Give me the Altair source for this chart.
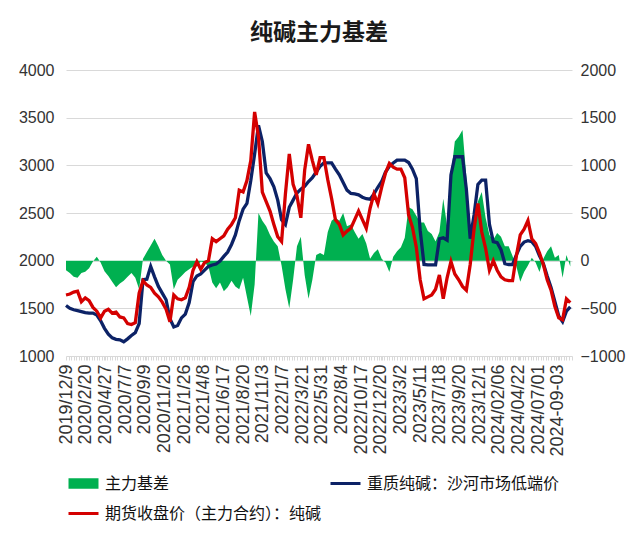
import altair as alt
import pandas as pd

chart_title = "纯碱主力基差"
basis_name = "主力基差"
spot_name = "重质纯碱：沙河市场低端价"
futures_name = "期货收盘价（主力合约）：纯碱"

x_labels = ["2019/12/9", "2020/2/20", "2020/4/27", "2020/7/7", "2020/9/9", "2020/11/20",
            "2021/1/26", "2021/4/8", "2021/6/17", "2021/8/20", "2021/11/3", "2022/1/7",
            "2022/3/21", "2022/5/31", "2022/8/4", "2022/10/17", "2022/12/20", "2023/3/2",
            "2023/5/11", "2023/7/18", "2023/9/20", "2023/12/1", "2024/02/06", "2024/04/22",
            "2024/07/01", "2024-09-03"]
label_step = 46      # trading days between category labels
sample_step = 9      # trading days between samples below

spot = [1530, 1500, 1485, 1475, 1465, 1455, 1450, 1450, 1430, 1370,
        1290, 1230, 1190, 1175, 1170, 1150, 1180, 1215, 1245, 1340,
        1800, 1805, 1940, 1830, 1730, 1660, 1590, 1390, 1305, 1320,
        1400, 1440, 1560, 1780, 1840, 1860, 1900, 1940, 1955, 1965,
        1995, 2045, 2090, 2170, 2270, 2420, 2540, 2600, 2840, 3120,
        3420, 3250, 2920, 2860, 2775, 2635, 2430, 2380, 2560, 2635,
        2710, 2750, 2780, 2830, 2870, 2930, 2990, 3025, 3025, 3025,
        2960, 2900, 2820, 2740, 2705, 2700, 2690, 2665, 2650, 2645,
        2700, 2770, 2830, 2930, 2990, 3025, 3055, 3055, 3055, 3030,
        2960, 2860, 2320, 1960, 1955, 1955, 1955, 2230, 2240, 2215,
        2900, 3090, 3090, 3090, 2750, 2230, 2480, 2800, 2845, 2845,
        2380, 2200, 2190, 2115, 1970, 1960, 1960, 2060, 2150, 2195,
        2210, 2200, 2150, 2050, 1970, 1840, 1720, 1570, 1420, 1360,
        1470, 1515]

futures = [1640, 1650, 1670, 1680, 1570, 1610, 1580, 1510, 1470, 1400,
           1470, 1490, 1450, 1460, 1410, 1400, 1340, 1330, 1350, 1660,
           1790, 1745, 1720, 1660, 1620, 1565, 1490, 1360, 1640, 1600,
           1590, 1610, 1720, 1900, 1990, 1910, 1980, 2000, 2230, 2200,
           2230, 2260, 2330, 2380, 2450, 2740, 2720, 2840, 3050, 3560,
           3300, 2720, 2620, 2520, 2380, 2250, 2200, 2700, 3120, 2800,
           2680, 2450, 2950, 3220, 3050, 2900, 3080, 3080, 2850, 2650,
           2430, 2380, 2270, 2310, 2340, 2430, 2520, 2430, 2340, 2550,
           2700, 2600, 2770, 2920, 3020, 2980, 2960, 2960, 2870, 2480,
           2350, 2140, 1800, 1600, 1620, 1640, 1700, 1850, 1600, 1820,
           1990, 1860, 1800, 1730, 1690, 1960, 2330, 2600, 2300, 2130,
           1900, 2000, 1900, 1830, 1800, 1790, 1790, 2050, 2270, 2330,
           2420, 2230, 2180, 2080, 1960, 1800, 1690, 1520, 1400, 1380,
           1600, 1560]

basis = [-100, -130, -170, -180, -130, -115, -80, -10, 40, -20,
         -110, -160, -220, -280, -240, -210, -170, -130, -180, -300,
         20, 90, 160, 230, 150, 60, 0, -40, -300, -200,
         -160, -120, -90, -60, -60, -10, -20, -60, -230, -290,
         -230, -320, -280, -210, -270, -300, -180, -380, -580, -250,
         500, 420, 360, 270, 200, 150, -50, -300, -500, -200,
         150, 250, -150, -400, -200, 60, 80, 60, 300, 420,
         450, 420, 500, 360, 380, 300, 230, 280, 180, 20,
         80, 120, 20, -20, -120, 40, 100, 140, 240, 560,
         540, 470, 400, 400, 310, 280, 200, 300, 650, 360,
         900, 1250, 1300, 1370, 880, 300, 300, 620, 720, 450,
         270, 220, 290, 250, 150, 150, 50, -60, -220, -120,
         -50, 30, -20, -120, 20, 100, 150, 30, 60, -180,
         60, -60]

df = pd.DataFrame({
    "idx": [i * sample_step for i in range(len(spot))],
    "spot": spot,
    "futures": futures,
    "basis": basis,
})

x_max = 1183
label_js = "[" + ",".join("'" + s + "'" for s in x_labels) + "]"
tick_vals = sorted(set(range(0, x_max + 1, 6)) |
                   set(range(0, len(x_labels) * label_step, label_step)))

TXT = "#333333"
GRID = "#d9d9d9"
CJK = "Noto Sans CJK SC"
LAT = "Liberation Sans"

x_enc = alt.X(
    "idx:Q",
    scale=alt.Scale(domain=[0, x_max], nice=False, zero=False),
    axis=alt.Axis(
        values=tick_vals,
        labelExpr=f"datum.value % {label_step} === 0 ? {label_js}[datum.value / {label_step}] : ''",
        labelAngle=270, labelFontSize=18, labelFont=LAT, labelColor=TXT,
        labelOverlap=False, labelPadding=4, labelBound=False, labelFlush=False,
        ticks=True, tickSize=4, tickColor=GRID, domain=False, grid=False, title=None,
    ),
)

left_axis = alt.Axis(orient="left", values=list(range(1000, 4001, 500)), format="d",
                     grid=True, gridColor=GRID, gridWidth=1, domain=False, ticks=False,
                     labelFontSize=16, labelFont=LAT, labelColor=TXT, labelPadding=12,
                     title=None, zindex=0)
right_axis = alt.Axis(orient="right", values=list(range(-1000, 2001, 500)), format="d",
                      grid=False, domain=False, ticks=False, labelFontSize=16, labelFont=LAT,
                      labelColor=TXT, labelPadding=8, title=None, zindex=0)
left_scale = alt.Scale(domain=[1000, 4000], nice=False, zero=False)
right_scale = alt.Scale(domain=[-1000, 2000], nice=False, zero=False)


def legend_at(x, y, symbol):
    return alt.Legend(orient="none", legendX=x, legendY=y, title=None, padding=0,
                      symbolType=symbol, symbolSize=900, symbolStrokeWidth=3,
                      labelFont=CJK, labelFontSize=16, labelColor="#111111",
                      labelOffset=5, labelLimit=400)


area = alt.Chart(df).transform_calculate(series=f"'{basis_name}'").mark_area(
    opacity=1, strokeWidth=0
).encode(
    x=x_enc,
    y=alt.Y("basis:Q", scale=right_scale, axis=right_axis),
    y2=alt.datum(0),
    fill=alt.Fill("series:N", scale=alt.Scale(domain=[basis_name], range=["#00b050"]),
                  legend=legend_at(1, 397, "M-1,-0.35H1V0.35H-1Z")),
)

spot_line = alt.Chart(df).transform_calculate(series=f"'{spot_name}'").mark_line(
    strokeWidth=3.3
).encode(
    x=x_enc,
    y=alt.Y("spot:Q", scale=left_scale, axis=left_axis),
    stroke=alt.Stroke("series:N", scale=alt.Scale(domain=[spot_name], range=["#0c2266"]),
                      legend=legend_at(263, 397, "stroke")),
)

fut_line = alt.Chart(df).transform_calculate(series=f"'{futures_name}'").mark_line(
    strokeWidth=3.3
).encode(
    x=x_enc,
    y=alt.Y("futures:Q", scale=left_scale, axis=left_axis),
    color=alt.Color("series:N", scale=alt.Scale(domain=[futures_name], range=["#d40000"]),
                    legend=legend_at(1, 427, "stroke")),
)

chart = alt.layer(area, alt.layer(spot_line, fut_line)).resolve_scale(
    y="independent"
).properties(
    width=506,
    height=286,
    title=alt.TitleParams(chart_title, font=CJK, fontSize=23, fontWeight="bold",
                          color="#1a1a1a", anchor="middle", offset=17),
    padding={"left": 58, "top": 62, "right": 60, "bottom": 170},
    autosize=alt.AutoSizeParams(type="none"),
    background="white",
).configure_view(stroke=None)

chart.save("out.html", embed_options={"renderer": "svg", "actions": False})
